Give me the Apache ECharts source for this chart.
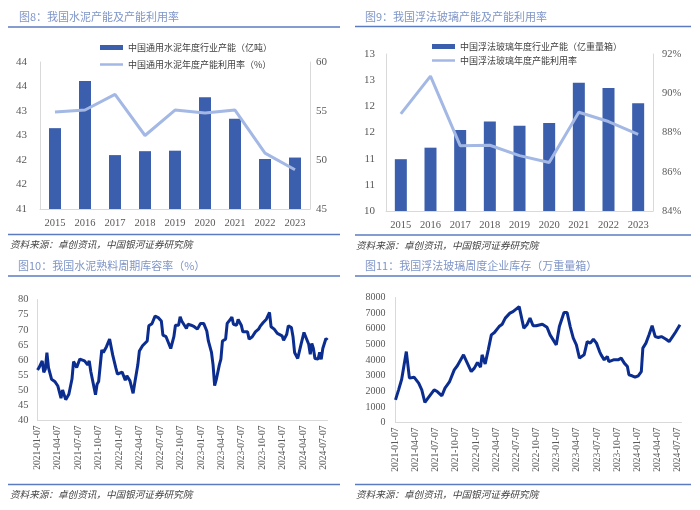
<!DOCTYPE html>
<html>
<head>
<meta charset="utf-8">
<script src="https://cdn.jsdelivr.net/npm/echarts@6/dist/echarts.min.js"></script>
<style>
  html, body { margin: 0; padding: 0; background: #fff; }
  #chart { width: 700px; height: 510px; }
</style>
</head>
<body>
<div id="chart"></div>
<script>
// top panels: yearly capacity and utilisation
const years = ['2015', '2016', '2017', '2018', '2019', '2020', '2021', '2022', '2023'];
const cementCapacity = [42.65, 43.61, 42.10, 42.18, 42.19, 43.28, 42.84, 42.02, 42.05];
const cementUtil = [54.9, 55.1, 56.7, 52.5, 55.1, 54.8, 55.1, 50.7, 49.0];
const glassCapacity = [10.99, 11.21, 11.55, 11.71, 11.63, 11.68, 12.45, 12.35, 12.06];
const glassUtil = [88.95, 90.87, 87.33, 87.35, 86.82, 86.47, 89.03, 88.56, 87.91];

// bottom panels: weekly series, week number counted from 2021-01-07
const dateLabels = ['2021-01-07', '2021-04-07', '2021-07-07', '2021-10-07', '2022-01-07', '2022-04-07',
  '2022-07-07', '2022-10-07', '2023-01-07', '2023-04-07', '2023-07-07', '2023-10-07', '2024-01-07',
  '2024-04-07', '2024-07-07'];

const cementWeeks = [0,1,3,4,5,6,7,8,9,11,13,15,16,18,20,22,23,25,27,28,30,32,33,34,37,38,39,41,42,44,
  46,48,50,51,54,55,56,57,59,61,62,64,65,67,70,71,73,74,75,77,79,80,82,83,85,87,88,90,91,92,
  95,96,98,100,102,104,106,108,109,111,112,113,114,116,117,118,120,121,123,124,125,127,128,130,131,134,135,137,139,141,
  142,144,146,148,149,151,153,156,157,159,160,162,163,164,166,168,170,171,173,174,175,176,177,179,180,181,182,184,185];
const cementRate = [56.7,57.5,59.7,55.9,57.0,62.4,57.5,57.3,53.6,52.9,51.4,47.4,50.1,46.9,48.7,53.7,59.5,57.5,60.3,60.8,
  59.7,58.4,59.7,56.2,48.5,52.0,52.9,63.3,62.5,64.4,66.9,61.6,57.3,55.3,56.0,55.8,53.3,54.8,53.1,49.0,
  52.3,58.4,63.0,64.7,66.3,71.3,72.0,71.8,74.5,74.0,72.9,68.2,67.7,68.0,63.8,67.7,71.5,71.5,74.3,72.9,
  70.4,71.8,71.5,71.0,70.2,72.1,72.1,69.6,66.3,62.5,58.4,51.5,53.4,58.4,60.3,66.3,66.9,72.1,73.4,74.2,
  71.8,71.5,73.4,71.5,69.3,69.3,66.9,67.7,69.3,70.2,71.1,72.4,73.5,75.7,71.0,70.2,68.8,68.0,66.5,68.5,
  71.3,70.7,67.7,62.5,60.5,64.9,69.1,69.6,65.2,61.9,65.5,63.8,60.5,60.3,62.5,60.2,63.8,67.1,66.6];

const glassWeeks = [0,2,4,7,9,12,13,15,17,19,21,25,27,30,32,35,38,40,44,46,49,51,53,55,56,58,60,62,64,67,
  69,71,74,76,80,81,83,85,87,89,91,95,98,100,104,106,109,111,113,115,117,119,122,124,126,128,130,132,133,135,
  137,138,141,144,146,148,150,151,153,155,157,159,160,162,164,166,168,170,172,173,175,177,179,181,184];
const glassStock = [1450,2090,2770,4540,2840,2900,2900,2520,2090,1280,1560,2090,1980,1710,2200,2620,3370,3630,4330,3900,
  3260,3480,3840,3540,4330,3750,4650,5610,5760,6140,6290,6680,7000,7100,7420,7350,6040,6250,6680,6190,
  6190,6290,6100,5610,4970,6140,7040,7040,6140,5400,4970,4120,4330,5180,5080,5330,5080,4540,4330,4010,
  4220,3900,4010,4010,4120,3800,3580,3050,2990,2900,2990,3260,4760,5080,5610,6190,5500,5440,5500,5400,
  5330,5180,5460,5760,6250];

const QW = 91.3125 / 7;   // weeks per quarter
const SERIF = '"Liberation Serif", "DejaVu Serif", serif';
const CJK = '"Noto Sans CJK SC", sans-serif';
const AXIS_GREY = '#d9d9d9';
const LABEL_GREY = '#595959';
const BAR_BLUE = '#3B5EAD';
const LIGHT_LINE = '#A3B8E4';
const NAVY = '#0B2D8F';
const TITLE_BLUE = '#7F95C8';
const RULE_BLUE = '#5B7BC0';

const names = {
  cementBar: '中国通用水泥年度行业产能（亿吨）',
  cementLine: '中国通用水泥年度产能利用率（%）',
  glassBar: '中国浮法玻璃年度行业产能（亿重量箱）',
  glassLine: '中国浮法玻璃年度产能利用率'
};

function pairs(xs, ys) {
  return xs.map((x, i) => [x, ys[i]]);
}

function catAxis(grid) {
  return {
    type: 'category', gridIndex: grid, data: years,
    axisLine: { lineStyle: { color: AXIS_GREY } },
    axisTick: { show: false },
    axisLabel: { color: LABEL_GREY, fontSize: 10.5, fontFamily: SERIF, margin: 9 }
  };
}

function valAxis(grid, min, max, interval, pos, fmt, margin, size) {
  return {
    type: 'value', gridIndex: grid, position: pos, min: min, max: max, interval: interval,
    axisLine: { show: true, lineStyle: { color: AXIS_GREY } },
    axisTick: { show: false },
    splitLine: { show: false },
    axisLabel: { color: LABEL_GREY, fontSize: size, fontFamily: SERIF, margin: margin, formatter: fmt }
  };
}

function weekAxis(grid) {
  return {
    type: 'value', gridIndex: grid, min: 0, max: 185, interval: QW,
    axisLine: { show: true, onZero: false, lineStyle: { color: AXIS_GREY } },
    axisTick: { show: false },
    splitLine: { show: false },
    axisLabel: {
      rotate: 90, color: LABEL_GREY, fontSize: 9.5, fontFamily: SERIF, margin: 5,
      formatter: function (v) {
        const i = Math.round(v / QW);
        return Math.abs(v - i * QW) < 0.05 && dateLabels[i] ? dateLabels[i] : '';
      }
    }
  };
}

function legendAt(name, left, top, h) {
  return {
    data: [{ name: name, icon: 'rect' }], left: left, top: top, itemWidth: 23, itemHeight: h,
    textStyle: { fontSize: 9, fontFamily: CJK, color: '#404040' },
    selectedMode: false
  };
}

function text(str, x, y, size, color, italic) {
  return {
    type: 'text', x: x, y: y,
    style: {
      text: str, fontSize: size, fontFamily: CJK, fill: color,
      fontStyle: italic ? 'italic' : 'normal', verticalAlign: 'middle'
    }
  };
}

function rule(x1, x2, y) {
  return {
    type: 'line', shape: { x1: x1, y1: y, x2: x2, y2: y },
    style: { stroke: RULE_BLUE, lineWidth: 1.5 }
  };
}

const chart = echarts.init(document.getElementById('chart'));

const option = {
  animation: false,
  backgroundColor: '#fff',
  graphic: [
    text('图8：我国水泥产能及产能利用率', 19, 17, 11, TITLE_BLUE),
    rule(8, 340, 27),
    rule(8, 340, 234.5),
    text('资料来源：卓创资讯，中国银河证券研究院', 10, 244, 9.6, '#404040', true),

    text('图9：我国浮法玻璃产能及产能利用率', 365, 17, 11, TITLE_BLUE),
    rule(355, 691, 26.5),
    rule(355, 691, 235),
    text('资料来源：卓创资讯，中国银河证券研究院', 356, 245, 9.6, '#404040', true),

    text('图10：我国水泥熟料周期库容率（%）', 18, 266, 11, TITLE_BLUE),
    rule(8, 340, 276),
    rule(8, 340, 484.5),
    text('资料来源：卓创资讯，中国银河证券研究院', 10, 494, 9.6, '#404040', true),

    text('图11：我国浮法玻璃周度企业库存（万重量箱）', 365, 266, 11, TITLE_BLUE),
    rule(355, 691, 276),
    rule(355, 691, 484.5),
    text('资料来源：卓创资讯，中国银河证券研究院', 356, 494, 9.6, '#404040', true)
  ],
  legend: [
    legendAt(names.cementBar, 95, 38, 5),
    legendAt(names.cementLine, 95, 55, 2.5),
    legendAt(names.glassBar, 427, 37, 5),
    legendAt(names.glassLine, 427, 51, 2.5)
  ],
  grid: [
    { left: 40, right: 390, top: 62, bottom: 301 },
    { left: 386, right: 47, top: 54, bottom: 299 },
    { left: 37.5, right: 372.5, top: 299.5, bottom: 89.5 },
    { left: 395.5, right: 18.5, top: 297.5, bottom: 87.5 }
  ],
  xAxis: [catAxis(0), catAxis(1), weekAxis(2), weekAxis(3)],
  yAxis: [
    valAxis(0, 41, 44, 0.5, 'left', v => String(Math.round(v)), 13, 11),
    valAxis(0, 45, 60, 5, 'right', v => String(v), 6, 11),
    valAxis(1, 10, 13, 0.5, 'left', v => String(Math.round(v)), 11, 11),
    valAxis(1, 84, 92, 2, 'right', v => v + '%', 9, 10.5),
    valAxis(2, 40, 80, 5, 'left', v => String(v), 9, 10.5),
    valAxis(3, 0, 8000, 1000, 'left', v => String(v), 10, 10)
  ],
  series: [
    {
      name: names.cementBar, type: 'bar', xAxisIndex: 0, yAxisIndex: 0,
      data: cementCapacity, barWidth: 12, itemStyle: { color: BAR_BLUE }
    },
    {
      name: names.cementLine, type: 'line', xAxisIndex: 0, yAxisIndex: 1,
      data: cementUtil, symbol: 'none', lineStyle: { color: LIGHT_LINE, width: 3 },
      itemStyle: { color: LIGHT_LINE }
    },
    {
      name: names.glassBar, type: 'bar', xAxisIndex: 1, yAxisIndex: 2,
      data: glassCapacity, barWidth: 12, itemStyle: { color: BAR_BLUE }
    },
    {
      name: names.glassLine, type: 'line', xAxisIndex: 1, yAxisIndex: 3,
      data: glassUtil, symbol: 'none', lineStyle: { color: LIGHT_LINE, width: 3 },
      itemStyle: { color: LIGHT_LINE }
    },
    {
      name: '库容率', type: 'line', xAxisIndex: 2, yAxisIndex: 4,
      data: pairs(cementWeeks, cementRate), symbol: 'none',
      lineStyle: { color: NAVY, width: 3 }
    },
    {
      name: '库存', type: 'line', xAxisIndex: 3, yAxisIndex: 5,
      data: pairs(glassWeeks, glassStock), symbol: 'none',
      lineStyle: { color: NAVY, width: 3 }
    }
  ]
};

chart.setOption(option);
</script>
</body>
</html>
